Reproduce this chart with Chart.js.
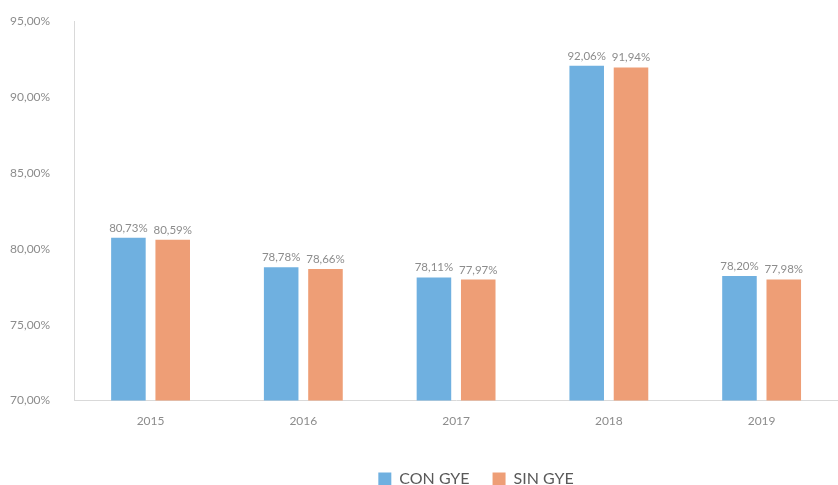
<!DOCTYPE html>
<html>
<head>
<meta charset="utf-8">
<script src="https://cdn.jsdelivr.net/npm/chart.js@4"></script>
<style>
    body { margin: 0; background: #ffffff; }
    #wrap { width: 838px; height: 485px; overflow: hidden; }
</style>
</head>
<body>
<div id="wrap"><canvas id="chart" width="838" height="485"></canvas></div>
<script>
// Chart data
const years = ['2015', '2016', '2017', '2018', '2019'];
const conGye = [80.73, 78.78, 78.11, 92.06, 78.20];
const sinGye = [80.59, 78.66, 77.97, 91.94, 77.98];
const yTicks = [70, 75, 80, 85, 90, 95];

function fmtPct(v) {
    return v.toFixed(2).replace('.', ',') + '%';
}

// Small plugin to draw the value above each bar
const barValues = {
    id: 'barValues',
    afterDatasetsDraw(chart) {
        const ctx = chart.ctx;
        ctx.save();
        ctx.font = '11.5px Lato, sans-serif';
        ctx.fillStyle = '#8c8c8c';
        ctx.textAlign = 'center';
        ctx.textBaseline = 'bottom';
        chart.data.datasets.forEach((ds, i) => {
            chart.getDatasetMeta(i).data.forEach((bar, j) => {
                ctx.fillText(fmtPct(ds.data[j]), bar.x, bar.y - 4);
            });
        });
        ctx.restore();
    }
};

// Legend sits centred under the plot area rather than the canvas
const legendShift = {
    id: 'legendShift',
    afterLayout(chart) {
        const dx = 58;
        chart.legend.left += dx;
        chart.legend.right += dx;
    }
};

document.addEventListener('DOMContentLoaded', function() {
    const ctx = document.getElementById('chart').getContext('2d');
    new Chart(ctx, {
        type: 'bar',
        data: {
            labels: years,
            datasets: [{
                label: 'CON GYE',
                data: conGye,
                backgroundColor: '#6fb0e0',
                categoryPercentage: 0.58,
                barPercentage: 0.78
            }, {
                label: 'SIN GYE',
                data: sinGye,
                backgroundColor: '#ee9e76',
                categoryPercentage: 0.58,
                barPercentage: 0.78
            }]
        },
        options: {
            responsive: false,
            animation: false,
            layout: {
                // the plot runs a little past the right edge, as in the source image
                padding: { left: -14, right: -12, top: 0, bottom: -12 }
            },
            plugins: {
                legend: {
                    position: 'bottom',
                    labels: {
                        boxWidth: 13,
                        boxHeight: 13,
                        padding: 23,
                        color: '#595959',
                        font: { family: 'Lato, sans-serif', size: 16 }
                    }
                },
                tooltip: { enabled: false }
            },
            scales: {
                x: {
                    grid: { display: false, drawTicks: false },
                    border: { display: true, color: '#d9d9d9', width: 1 },
                    ticks: {
                        color: '#8c8c8c',
                        padding: 13,
                        font: { family: 'Lato, sans-serif', size: 12 }
                    },
                    afterFit: axis => {
                        axis.height += 7;
                        axis.paddingRight = -12;
                    }
                },
                y: {
                    min: yTicks[0],
                    max: yTicks[yTicks.length - 1],
                    afterBuildTicks: axis => {
                        axis.ticks = yTicks.map(v => ({ value: v }));
                    },
                    afterFit: axis => {
                        // tick padding is also added above/below the axis; keep the top tight
                        axis.paddingTop = 21;
                        axis.paddingBottom = 0;
                    },
                    grid: { display: false, drawTicks: false },
                    border: { display: true, color: '#d9d9d9', width: 1 },
                    ticks: {
                        color: '#8c8c8c',
                        padding: 24,
                        font: { family: 'Lato, sans-serif', size: 12 },
                        callback: v => fmtPct(v)
                    }
                }
            }
        },
        plugins: [barValues, legendShift]
    });
});
</script>
</body>
</html>
